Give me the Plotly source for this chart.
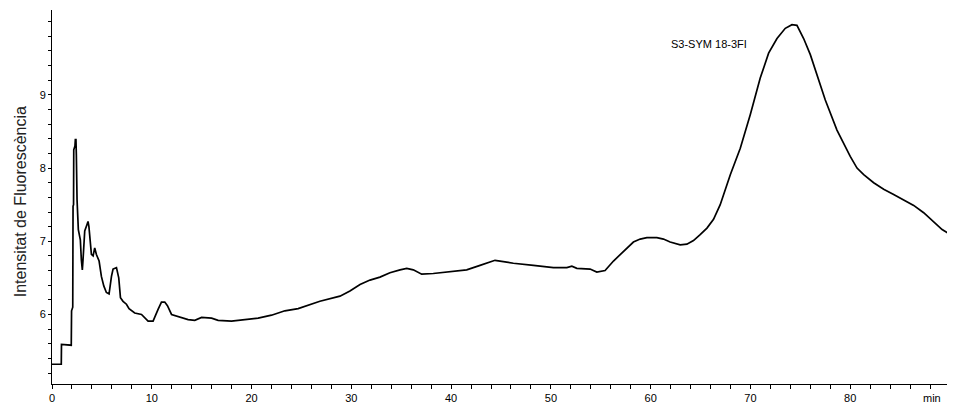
import plotly.graph_objects as go

time_min = [0.0, 0.93, 0.95, 1.6, 1.93, 1.96, 2.08, 2.11, 2.16, 2.18, 2.3, 2.34, 2.4, 2.44, 2.51,
            2.64, 2.75, 2.84, 2.94, 3.04, 3.11, 3.2, 3.28, 3.51, 3.61, 3.7, 3.78, 3.95, 4.12,
            4.2, 4.28, 4.45, 4.72, 4.95, 5.19, 5.45, 5.72, 5.96, 6.12, 6.46, 6.69, 6.86, 7.12,
            7.46, 7.72, 8.29, 8.97, 9.63, 10.13, 10.63, 10.97, 11.3, 11.57, 11.98, 12.64, 13.64,
            14.31, 14.99, 15.99, 16.65, 17.99, 19.33, 20.66, 22.0, 23.34, 24.67, 26.0, 26.85,
            28.86, 29.86, 30.87, 31.87, 32.87, 33.87, 34.88, 35.55, 36.21, 36.71, 37.05, 38.21,
            39.89, 41.56, 42.9, 43.9, 44.4, 44.9, 46.24, 48.25, 50.25, 51.6, 52.1, 52.6, 53.26,
            53.93, 54.6, 55.43, 56.27, 57.27, 58.27, 58.95, 59.62, 60.62, 61.28, 61.95, 62.96,
            63.63, 64.29, 64.96, 65.64, 66.3, 66.97, 67.98, 68.98, 69.98, 70.98, 71.82, 72.66,
            73.49, 74.16, 74.66, 75.33, 76.0, 76.67, 77.5, 78.67, 79.33, 80.0, 80.68, 81.35,
            82.35, 83.35, 84.35, 85.36, 86.36, 87.36, 88.36, 89.21, 90.04]

intensity = [5.32, 5.32, 5.59, 5.59, 5.58, 6.05, 6.1, 7.48, 7.5, 8.25, 8.3, 8.39, 8.39, 8.18, 7.57,
             7.16, 7.05, 7.02, 6.75, 6.61, 6.75, 7.1, 7.14, 7.23, 7.27, 7.2, 7.07, 6.82, 6.80,
             6.88, 6.91, 6.82, 6.73, 6.52, 6.39, 6.30, 6.28, 6.52, 6.62, 6.64, 6.50, 6.23, 6.18,
             6.14, 6.08, 6.02, 6.00, 5.91, 5.91, 6.07, 6.17, 6.17, 6.12, 6.00, 5.97, 5.93,
             5.92, 5.96, 5.95, 5.92, 5.91, 5.93, 5.95, 5.99, 6.05, 6.08, 6.14, 6.18,
             6.25, 6.32, 6.41, 6.47, 6.51, 6.57, 6.61, 6.63, 6.61, 6.57, 6.55, 6.56,
             6.58, 6.61, 6.67, 6.71, 6.74, 6.73, 6.70, 6.67, 6.64, 6.64, 6.66, 6.63, 6.63,
             6.62, 6.58, 6.60, 6.73, 6.86, 6.99, 7.03, 7.05, 7.05, 7.03, 6.99, 6.95,
             6.96, 7.01, 7.09, 7.18, 7.30, 7.50, 7.91, 8.27, 8.73, 9.23, 9.57, 9.77,
             9.91, 9.96, 9.95, 9.77, 9.55, 9.27, 8.93, 8.52, 8.34, 8.16, 8.00, 7.91,
             7.80, 7.71, 7.64, 7.57, 7.49, 7.39, 7.27, 7.16, 7.09]

x_tick_vals = [0, 10, 20, 30, 40, 50, 60, 70, 80]
x_tick_text = ["0", "10", "20", "30", "40", "50", "60", "70", "80"]
y_tick_vals = [6, 7, 8, 9]
y_tick_text = ["6", "7", "8", "9"]

sample_label = "S3-SYM 18-3FI"
y_title = "Intensitat de Fluorescència"
x_unit = "min"

FONT = "Liberation Sans, Arial, sans-serif"

fig = go.Figure()
fig.add_trace(go.Scatter(
    x=time_min, y=intensity, mode="lines",
    line=dict(color="black", width=1.7),
    hoverinfo="x+y", showlegend=False,
))

fig.update_layout(
    width=947, height=399,
    margin=dict(l=44, r=0, t=2, b=23),
    paper_bgcolor="white", plot_bgcolor="white",
    font=dict(family=FONT, size=11, color="black"),
    xaxis=dict(
        range=[0, 90.5], showgrid=False, zeroline=False,
        showline=True, linecolor="black", linewidth=1,
        tickmode="array", tickvals=x_tick_vals, ticktext=x_tick_text,
        ticks="outside", ticklen=4, tickcolor="black", tickwidth=1,
        minor=dict(dtick=2, tick0=0, ticks="outside", ticklen=4, tickcolor="black", showgrid=False),
        tickfont=dict(family=FONT, size=11, color="black"),
    ),
    yaxis=dict(
        range=[5.05, 10.16], showgrid=False, zeroline=False,
        showline=True, linecolor="black", linewidth=1,
        tickmode="array", tickvals=y_tick_vals, ticktext=y_tick_text,
        ticks="outside", ticklen=3, tickcolor="black", tickwidth=1,
        minor=dict(dtick=0.2, tick0=0, ticks="outside", ticklen=3, tickcolor="black", showgrid=False),
        tickfont=dict(family=FONT, size=11, color="black"),
    ),
    annotations=[
        dict(text=sample_label, x=65.8, y=9.70, xref="x", yref="y", showarrow=False,
             font=dict(family=FONT, size=11, color="black")),
        dict(text=y_title, x=-0.035, y=0.487, xref="paper", yref="paper", showarrow=False,
             xanchor="center", yanchor="middle",
             textangle=-90, font=dict(family=FONT, size=16, color="#222")),
        dict(text=x_unit, x=0.987, y=-0.037, xref="paper", yref="paper", showarrow=False,
             yanchor="middle", font=dict(family=FONT, size=11, color="black")),
    ],
)

fig.write_html("out.html")
